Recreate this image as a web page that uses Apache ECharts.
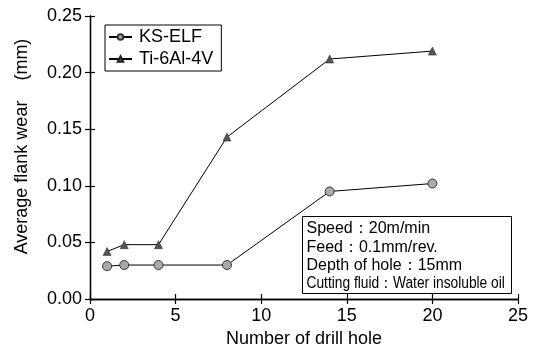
<!DOCTYPE html>
<html><head><meta charset="utf-8">
<script src="https://cdn.jsdelivr.net/npm/echarts@6/dist/echarts.min.js"></script>
<style>html,body{margin:0;padding:0;background:#fff}#c{width:535px;height:353px}</style>
</head><body><div id="c"></div>
<script>
const ksX = [1, 2, 4, 8, 14, 20];
const ksY = [0.029, 0.030, 0.030, 0.030, 0.095, 0.102];
const tiX = [1, 2, 4, 8, 14, 20];
const tiY = [0.042, 0.048, 0.048, 0.143, 0.212, 0.219];
const seriesNames = ['KS-ELF', 'Ti-6Al-4V'];
const noteLines = ['Speed：20m/min', 'Feed：0.1mm/rev.', 'Depth of hole：15mm', 'Cutting fluid：Water insoluble oil'];

const font = 'Liberation Sans, Arial, sans-serif';
const chart = echarts.init(document.getElementById('c'));
const axisCommon = {
  axisLine: {show: true, lineStyle: {color: '#000', width: 1.3}},
  axisTick: {show: true, inside: true, length: 5, lineStyle: {color: '#000', width: 1.2}},
  splitLine: {show: false}
};
chart.setOption({
  animation: false,
  grid: {left: 90, right: 17, top: 16, bottom: 54},
  legend: {
    left: 105, top: 25, orient: 'vertical', itemGap: 4, itemWidth: 23, itemHeight: 7,
    padding: [3, 8, 3, 3], borderColor: '#000', borderWidth: 1,
    textStyle: {fontFamily: font, fontSize: 18, color: '#000', padding: [0, 0, 0, 2]},
    data: seriesNames
  },
  xAxis: [{
    type: 'value', min: 0, max: 25, interval: 5, ...axisCommon,
    axisLabel: {fontFamily: font, fontSize: 18, color: '#000', margin: 8},
    name: 'Number of drill hole', nameLocation: 'middle', nameGap: 31,
    nameTextStyle: {fontFamily: font, fontSize: 18, color: '#000'}
  }, {
    type: 'value', position: 'top', min: 0, max: 25, interval: 5, ...axisCommon,
    axisLabel: {show: false}
  }],
  yAxis: [{
    type: 'value', min: 0, max: 0.25, interval: 0.05, ...axisCommon,
    axisLabel: {fontFamily: font, fontSize: 18, color: '#000', formatter: v => v.toFixed(2), margin: 8},
    name: 'Average flank wear    (mm)', nameLocation: 'middle', nameGap: 59,
    nameTextStyle: {fontFamily: font, fontSize: 18, color: '#000', padding: [0, 0, 0, 22]}
  }, {
    type: 'value', position: 'right', min: 0, max: 0.25, interval: 0.05, ...axisCommon,
    axisLabel: {show: false}
  }],
  series: [{
    name: seriesNames[0], type: 'line', data: ksX.map((x, i) => [x, ksY[i]]),
    symbol: 'circle', symbolSize: 9,
    lineStyle: {color: '#000', width: 1},
    itemStyle: {color: '#aaaaaa', borderColor: '#333', borderWidth: 1}
  }, {
    name: seriesNames[1], type: 'line', data: tiX.map((x, i) => [x, tiY[i]]),
    symbol: 'triangle', symbolSize: 8,
    lineStyle: {color: '#000', width: 1},
    itemStyle: {color: '#555555', borderColor: '#222', borderWidth: 0.5}
  }],
  graphic: [{
    type: 'group', left: 302, top: 216,
    children: [
      {type: 'rect', shape: {x: 0, y: 0, width: 209, height: 77}, style: {fill: '#fff', stroke: '#000', lineWidth: 1}},
      {type: 'text', x: 4, y: 4, style: {text: noteLines[0], font: '16px ' + font, fill: '#000'}},
      {type: 'text', x: 4, y: 23, style: {text: noteLines[1], font: '16px ' + font, fill: '#000'}},
      {type: 'text', x: 4, y: 41, style: {text: noteLines[2], font: '16px ' + font, fill: '#000'}},
      {type: 'text', x: 4, y: 59, scaleX: 0.86, style: {text: noteLines[3], font: '16px ' + font, fill: '#000'}}
    ]
  }]
});
</script></body></html>
